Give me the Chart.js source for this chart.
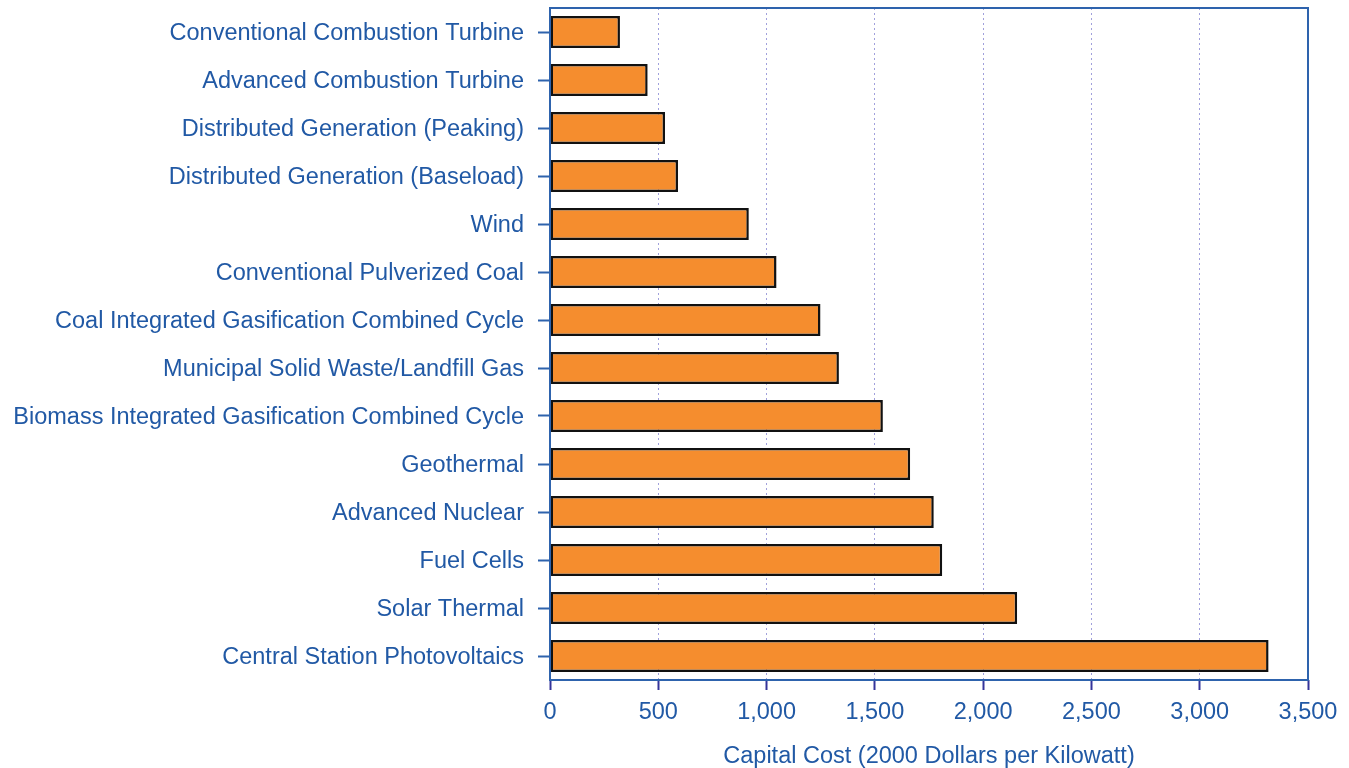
<!DOCTYPE html>
<html>
  <head>
    <meta charset="utf-8" />
    <title>Capital Cost by Technology</title>
    <style>
      html, body { margin: 0; padding: 0; background: #fff; }
      #wrap { width: 1349px; height: 768px; position: relative; }
    </style>
  </head>
  <body>
    <div id="wrap"><canvas id="screen"></canvas></div>
    <script src="https://cdn.jsdelivr.net/npm/chart.js@4.4.1/dist/chart.umd.min.js"></script>
    <script>
      // technologies, top to bottom
      const technologies = [
        "Conventional Combustion Turbine",
        "Advanced Combustion Turbine",
        "Distributed Generation (Peaking)",
        "Distributed Generation (Baseload)",
        "Wind",
        "Conventional Pulverized Coal",
        "Coal Integrated Gasification Combined Cycle",
        "Municipal Solid Waste/Landfill Gas",
        "Biomass Integrated Gasification Combined Cycle",
        "Geothermal",
        "Advanced Nuclear",
        "Fuel Cells",
        "Solar Thermal",
        "Central Station Photovoltaics"
      ];

      // capital cost, 2000 dollars per kilowatt
      const capitalCost = [323, 451, 531, 591, 918, 1046, 1249, 1334, 1537, 1663, 1772, 1811, 2157, 3318];

      const xMin = 0;
      const xMax = 3500;
      const xStep = 500;
      const xTitle = "Capital Cost (2000 Dollars per Kilowatt)";

      const blue = "#2159a5";
      const frameBlue = "#2e63ad";
      const fontFamily = "'Liberation Sans', Arial, sans-serif";

      // box round the plot area
      const frame = {
        id: "frame",
        afterDatasetsDraw(chart) {
          const a = chart.chartArea;
          const c = chart.ctx;
          c.save();
          c.strokeStyle = frameBlue;
          c.lineWidth = 2;
          c.strokeRect(a.left, a.top, a.right - a.left, a.bottom - a.top);
          c.restore();
        }
      };

      const ctx = document.getElementById("screen").getContext("2d");
      const chart = new Chart(ctx, {
        type: "bar",
        data: {
          labels: technologies,
          datasets: [
            {
              data: capitalCost,
              backgroundColor: "#f58d2e",
              borderColor: "#111111",
              borderWidth: 2.5,
              borderSkipped: false,
              categoryPercentage: 1,
              barPercentage: 0.667
            }
          ]
        },
        plugins: [frame],
        options: {
          indexAxis: "y",
          responsive: true,
          maintainAspectRatio: false,
          animation: false,
          layout: { padding: { top: 8, right: 41, left: 0, bottom: 0 } },
          plugins: {
            legend: { display: false },
            tooltip: { enabled: false }
          },
          scales: {
            x: {
              min: xMin,
              max: xMax,
              afterFit(scale) {
                scale.height = 88;
                scale.paddingLeft = 0;
                scale.paddingRight = 0;
              },
              ticks: {
                stepSize: xStep,
                color: blue,
                padding: 8,
                font: { family: fontFamily, size: 23.5 },
                callback: (v) => Number(v).toLocaleString("en-US")
              },
              grid: {
                color: "#a0a0dc",
                lineWidth: 1,
                tickColor: "#34349a",
                tickLength: 10,
                tickWidth: 2,
                tickBorderDash: []
              },
              border: { display: false, dash: [2, 3] },
              title: {
                display: true,
                text: xTitle,
                color: blue,
                padding: { top: 0, bottom: -3 },
                font: { family: fontFamily, size: 23.5 }
              }
            },
            y: {
              afterFit(scale) {
                scale.width = 550;
                scale.paddingTop = 0;
                scale.paddingBottom = 0;
              },
              ticks: {
                color: blue,
                padding: 14,
                labelOffset: 1.5,
                font: { family: fontFamily, size: 23.5 }
              },
              grid: {
                offset: false,
                drawOnChartArea: false,
                tickColor: frameBlue,
                tickLength: 12,
                tickWidth: 2
              },
              border: { display: false }
            }
          }
        }
      });
    </script>
  </body>
</html>
